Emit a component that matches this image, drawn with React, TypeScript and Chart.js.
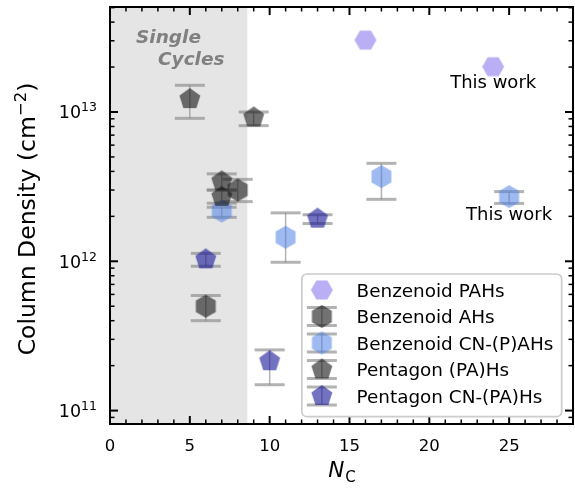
import React, { useEffect, useRef } from 'react';
import { Chart, registerables } from 'chart.js';
Chart.register(...registerables);

const FONT = 'DejaVu Sans';

const seriesNames = ['Benzenoid PAHs', 'Benzenoid AHs', 'Benzenoid CN-(P)AHs', 'Pentagon (PA)Hs', 'Pentagon CN-(PA)Hs'];

const pahX = [16, 24];
const pahY = [3.03e13, 2.01e13];

const ahX = [6, 8];
const ahY = [5.0e11, 3.0e12];
const ahLo = [4.0e11, 2.51e12];
const ahHi = [5.9e11, 3.54e12];

const cnX = [7, 11, 17, 25];
const cnY = [2.17e12, 1.45e12, 3.69e12, 2.71e12];
const cnLo = [1.97e12, 0.985e12, 2.6e12, 2.44e12];
const cnHi = [2.3e12, 2.11e12, 4.53e12, 2.93e12];

const pentX = [5, 9, 7, 7];
const pentY = [1.22e13, 0.92e13, 3.43e12, 2.7e12];
const pentLo = [0.907e13, 0.81e13, 3.0e12, 2.45e12];
const pentHi = [1.51e13, 1.0e13, 3.85e12, 3.0e12];

const cnpX = [6, 13, 10];
const cnpY = [1.03e12, 1.93e12, 2.14e11];
const cnpLo = [0.926e12, 1.79e12, 1.49e11];
const cnpHi = [1.13e12, 2.05e12, 2.55e11];

const xMin = 0;
const xMax = 29;
const yMin = 8.13e10;
const yMax = 5.05e13;
const shadeMax = 8.6;

const xTickValues = [0, 5, 10, 15, 20, 25];
const xTickLabels = ['0', '5', '10', '15', '20', '25'];
const yTickValues = [1e11, 1e12, 1e13];
const yTickExponents = ['11', '12', '13'];

const noteLabels = ['This work', 'This work'];
const noteX = [24, 25];
const noteY = [1.56e13, 2.02e12];

const shadeTitle = ['Single', 'Cycles'];

function poly(kind: string, R: number, fill: string) {
  const size = Math.ceil(R * 2 + 4);
  const c = document.createElement('canvas');
  c.width = size;
  c.height = size;
  const ctx = c.getContext('2d')!;
  const cx = size / 2, cy = size / 2;
  const n = kind === 'pent' ? 5 : 6;
  const start = kind === 'hexH' ? 0 : -Math.PI / 2;
  ctx.beginPath();
  for (let i = 0; i < n; i++) {
    const a = start + (i * 2 * Math.PI) / n;
    const px = cx + R * Math.cos(a), py = cy + R * Math.sin(a);
    if (i) ctx.lineTo(px, py); else ctx.moveTo(px, py);
  }
  ctx.closePath();
  ctx.fillStyle = fill;
  ctx.fill();
  return c;
}

export default function App() {
  const ref = useRef<HTMLCanvasElement>(null);
  useEffect(() => {
    const canvas = ref.current!;
    const styles = [
      poly('hexH', 11, 'rgba(130,110,235,0.55)'),
      poly('hexV', 11.5, 'rgba(20,20,20,0.6)'),
      poly('hexV', 11.5, 'rgba(80,130,230,0.55)'),
      poly('pent', 11, 'rgba(20,20,20,0.6)'),
      poly('pent', 11, 'rgba(20,20,150,0.6)'),
    ];
    const series: any[] = [
      { label: seriesNames[0], x: pahX, y: pahY, lo: null, hi: null },
      { label: seriesNames[1], x: ahX, y: ahY, lo: ahLo, hi: ahHi },
      { label: seriesNames[2], x: cnX, y: cnY, lo: cnLo, hi: cnHi },
      { label: seriesNames[3], x: pentX, y: pentY, lo: pentLo, hi: pentHi },
      { label: seriesNames[4], x: cnpX, y: cnpY, lo: cnpLo, hi: cnpHi },
    ];
    const errColor = 'rgba(128,128,128,0.6)';
    const capHalf = 15;

    const line = (ctx: CanvasRenderingContext2D, x1: number, y1: number, x2: number, y2: number) => {
      ctx.beginPath();
      ctx.moveTo(x1, y1);
      ctx.lineTo(x2, y2);
      ctx.stroke();
    };

    const decor = {
      id: 'decor',
      beforeDatasetsDraw(chart: any) {
        const { ctx, chartArea: a } = chart;
        const xs = chart.scales.x, ys = chart.scales.y;
        ctx.save();
        const x0 = xs.getPixelForValue(xMin), x1 = xs.getPixelForValue(shadeMax);
        ctx.fillStyle = '#e5e5e5';
        ctx.fillRect(x0, a.top, x1 - x0, a.bottom - a.top);
        ctx.strokeStyle = errColor;
        series.forEach((s) => {
          if (!s.lo) return;
          s.x.forEach((xv: number, j: number) => {
            const px = xs.getPixelForValue(xv);
            const pLo = ys.getPixelForValue(s.lo[j]);
            const pHi = ys.getPixelForValue(s.hi[j]);
            ctx.lineWidth = 1.5;
            line(ctx, px, pHi, px, pLo);
            ctx.lineWidth = 3;
            line(ctx, px - capHalf, pHi, px + capHalf, pHi);
            line(ctx, px - capHalf, pLo, px + capHalf, pLo);
          });
        });
        ctx.restore();
      },
      afterDatasetsDraw(chart: any) {
        const { ctx, chartArea: a } = chart;
        const xs = chart.scales.x, ys = chart.scales.y;
        ctx.save();

        // "Single Cycles"
        ctx.fillStyle = 'rgb(128,128,128)';
        ctx.font = `italic bold 18.5px "${FONT}"`;
        ctx.textAlign = 'left';
        ctx.textBaseline = 'alphabetic';
        ctx.fillText(shadeTitle[0], a.left + 26, a.top + 36.3);
        ctx.fillText(shadeTitle[1], a.left + 48, a.top + 58);

        // notes
        ctx.fillStyle = '#000';
        ctx.font = `18px "${FONT}"`;
        ctx.textAlign = 'center';
        ctx.textBaseline = 'middle';
        noteLabels.forEach((t, i) => {
          ctx.fillText(t, xs.getPixelForValue(noteX[i]), ys.getPixelForValue(noteY[i]));
        });

        // ticks
        ctx.strokeStyle = '#000';
        const majL = 8, minL = 4.5;
        for (let v = Math.ceil(xMin); v <= xMax; v++) {
          const px = xs.getPixelForValue(v);
          const major = xTickValues.includes(v);
          ctx.lineWidth = major ? 2 : 1.5;
          const L = major ? majL : minL;
          line(ctx, px, a.bottom, px, a.bottom - L);
          line(ctx, px, a.top, px, a.top + L);
        }
        for (let e = Math.floor(Math.log10(yMin)); e <= Math.ceil(Math.log10(yMax)); e++) {
          for (let k = 1; k <= 9; k++) {
            const v = k * Math.pow(10, e);
            if (v < yMin || v > yMax) continue;
            const py = ys.getPixelForValue(v);
            const major = k === 1;
            ctx.lineWidth = major ? 2 : 1.5;
            const L = major ? majL : minL;
            line(ctx, a.left, py, a.left + L, py);
            line(ctx, a.right, py, a.right - L, py);
          }
        }

        // frame
        ctx.lineWidth = 2;
        ctx.strokeRect(a.left, a.top, a.right - a.left, a.bottom - a.top);

        // x tick labels
        ctx.fillStyle = '#000';
        ctx.font = `16.5px "${FONT}"`;
        ctx.textAlign = 'center';
        ctx.textBaseline = 'alphabetic';
        xTickValues.forEach((v, i) => {
          ctx.fillText(xTickLabels[i], xs.getPixelForValue(v), a.bottom + 26.5);
        });

        // y tick labels with superscripts
        yTickValues.forEach((v, i) => {
          const py = ys.getPixelForValue(v);
          ctx.font = `12.5px "${FONT}"`;
          const wSup = ctx.measureText(yTickExponents[i]).width;
          ctx.font = `17.5px "${FONT}"`;
          const wBase = ctx.measureText('10').width;
          const right = a.left - 13;
          ctx.textAlign = 'left';
          ctx.fillText('10', right - wSup - wBase, py + 6.5);
          ctx.font = `12.5px "${FONT}"`;
          ctx.fillText(yTickExponents[i], right - wSup, py - 0.5);
        });

        // y axis title
        ctx.save();
        const t1 = 'Column Density (cm', t2 = '\u22122', t3 = ')';
        ctx.font = `23.5px "${FONT}"`;
        const w1 = ctx.measureText(t1).width, w3 = ctx.measureText(t3).width;
        ctx.font = `16.5px "${FONT}"`;
        const w2 = ctx.measureText(t2).width;
        const tot = w1 + w2 + w3;
        ctx.translate(35, (a.top + a.bottom) / 2 + 3.5);
        ctx.rotate(-Math.PI / 2);
        ctx.textAlign = 'left';
        ctx.font = `23.5px "${FONT}"`;
        ctx.fillText(t1, -tot / 2, 0);
        ctx.font = `16.5px "${FONT}"`;
        ctx.fillText(t2, -tot / 2 + w1, -9.5);
        ctx.font = `23.5px "${FONT}"`;
        ctx.fillText(t3, -tot / 2 + w1 + w2, 0);
        ctx.restore();

        // x axis title N_C
        ctx.font = `italic 21.5px "${FONT}"`;
        const wN = ctx.measureText('N').width;
        ctx.font = `15px "${FONT}"`;
        const wC = ctx.measureText('C').width;
        const cxm = (a.left + a.right) / 2;
        const sx = cxm - (wN + wC) / 2;
        ctx.textAlign = 'left';
        ctx.font = `italic 21.5px "${FONT}"`;
        ctx.fillText('N', sx, a.bottom + 52.5);
        ctx.font = `15px "${FONT}"`;
        ctx.fillText('C', sx + wN + 1, a.bottom + 57.5);

        // legend
        ctx.font = `18.4px "${FONT}"`;
        let maxW = 0;
        series.forEach((s) => { maxW = Math.max(maxW, ctx.measureText(s.label).width); });
        const lw = 54.7 + maxW + 8.4;
        const lh = 142.7;
        const lr = a.right - 11.3, lb = a.bottom - 7.3;
        const lx = lr - lw, ly = lb - lh;
        ctx.beginPath();
        (ctx as any).roundRect(lx, ly, lw, lh, 5);
        ctx.fillStyle = 'rgba(255,255,255,0.8)';
        ctx.fill();
        ctx.strokeStyle = 'rgb(204,204,204)';
        ctx.lineWidth = 1.7;
        ctx.stroke();
        series.forEach((s, i) => {
          const cy = ly + 16 + i * 26.5;
          const mx = lx + 20;
          if (s.lo) {
            ctx.strokeStyle = errColor;
            ctx.lineWidth = 1.5;
            line(ctx, mx, cy - 9, mx, cy + 9);
            ctx.lineWidth = 3;
            line(ctx, mx - capHalf, cy - 9, mx + capHalf, cy - 9);
            line(ctx, mx - capHalf, cy + 9, mx + capHalf, cy + 9);
          }
          const st = styles[i];
          ctx.drawImage(st, mx - st.width / 2, cy - st.height / 2);
          ctx.fillStyle = '#000';
          ctx.font = `18.4px "${FONT}"`;
          ctx.textAlign = 'left';
          ctx.textBaseline = 'alphabetic';
          ctx.fillText(s.label, lx + 54.7, cy + 6.7);
        });

        ctx.restore();
      },
    };

    const chart = new Chart(canvas, {
      type: 'scatter',
      data: {
        datasets: series.map((s, i) => ({
          label: s.label,
          data: s.x.map((v: number, j: number) => ({ x: v, y: s.y[j] })),
          pointStyle: styles[i] as any,
          pointRadius: 11,
          pointHoverRadius: 11,
          order: 5 - i,
        })),
      },
      options: {
        responsive: false,
        animation: false,
        devicePixelRatio: 1,
        events: [],
        layout: { autoPadding: false, padding: { left: 110, right: 2, top: 7, bottom: 65 } },
        plugins: { legend: { display: false }, tooltip: { enabled: false } },
        scales: {
          x: { type: 'linear', min: xMin, max: xMax, display: false },
          y: { type: 'logarithmic', min: yMin, max: yMax, display: false },
        },
      },
      plugins: [decor],
    });
    return () => chart.destroy();
  }, []);
  return (
    <div style={{ position: 'fixed', left: 0, top: 0, width: 575, height: 489 }}>
      <canvas ref={ref} width={575} height={489} style={{ display: 'block' }} />
    </div>
  );
}
